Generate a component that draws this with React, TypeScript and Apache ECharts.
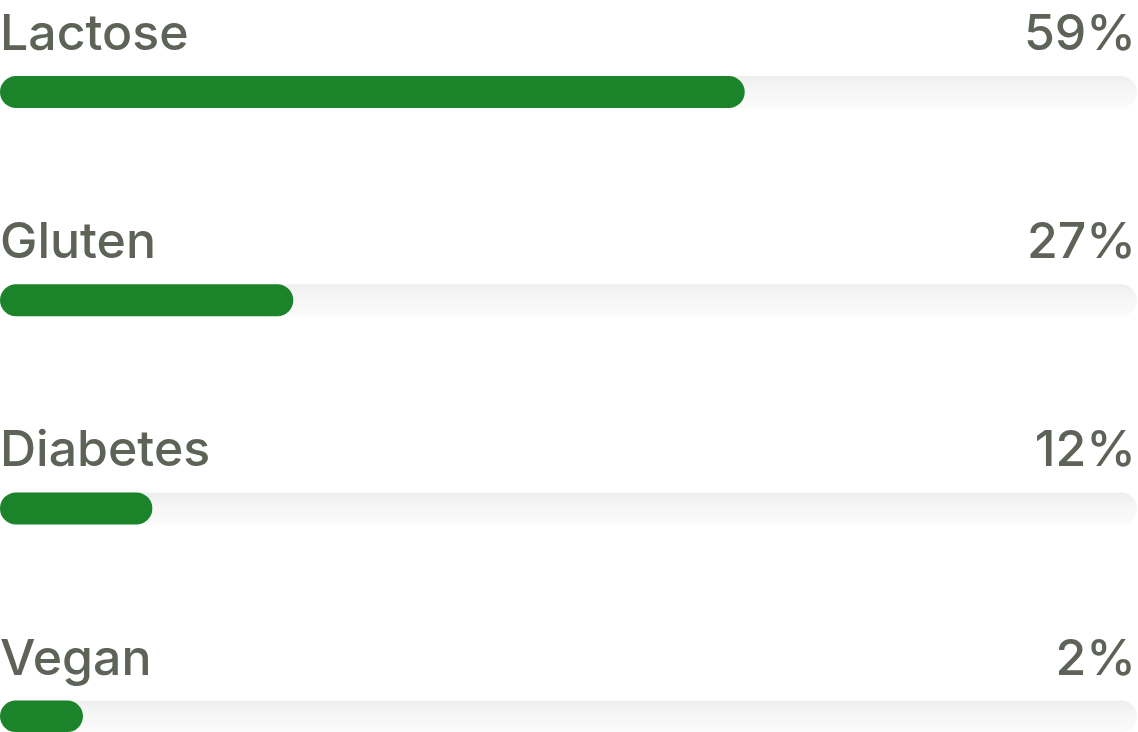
import React, { useEffect, useRef } from "react";
import * as echarts from "echarts";

const categories = ["Lactose", "Gluten", "Diabetes", "Vegan"];
const percentLabels = [59, 27, 12, 2];
// Fill lengths, in % of the track
const barLengths = [65.5, 25.8, 13.4, 7.3];
const trackMax = 100;

export default function App() {
  const ref = useRef<HTMLDivElement>(null);
  useEffect(() => {
    if (!ref.current) return;
    const chart = echarts.init(ref.current, null, { renderer: "svg" });
    const textColor = "#5e6358";
    const font = "Inter, 'Noto Sans', sans-serif";
    const rowTop = 76;
    const rowStep = 208.2;
    const barH = 32;

    const grids = categories.map((_, i) => ({
      left: 0,
      right: 1,
      top: rowTop + i * rowStep,
      height: barH,
      containLabel: false,
    }));
    const xAxes = categories.map((_, i) => ({
      type: "value",
      gridIndex: i,
      min: 0,
      max: trackMax,
      show: false,
    }));
    const yAxes = categories.map((c, i) => ({
      type: "category",
      gridIndex: i,
      data: [c],
      show: false,
    }));
    const series: any[] = [];
    categories.forEach((c, i) => {
      series.push({
        type: "bar",
        name: c + " track",
        xAxisIndex: i,
        yAxisIndex: i,
        data: [trackMax],
        barWidth: barH,
        barGap: "-100%",
        silent: true,
        itemStyle: {
          borderRadius: barH / 2,
          color: new echarts.graphic.LinearGradient(0, 0, 0, 1, [
            { offset: 0, color: "#eeeeee" },
            { offset: 0.35, color: "#f5f5f5" },
            { offset: 1, color: "#fbfbfb" },
          ]),
        },
        label: {
          show: true,
          position: ["100%", -44],
          align: "right",
          verticalAlign: "middle",
          offset: [-1, 0],
          formatter: () => percentLabels[i] + "%",
          color: textColor,
          fontSize: 50,
          fontFamily: font,
          fontWeight: 500,
        },
      });
      series.push({
        type: "bar",
        name: c,
        xAxisIndex: i,
        yAxisIndex: i,
        data: [barLengths[i]],
        barWidth: barH,
        barGap: "-100%",
        itemStyle: { borderRadius: barH / 2, color: "#1b842b" },
        label: {
          show: true,
          position: [0, -44],
          align: "left",
          verticalAlign: "middle",
          formatter: () => c,
          color: textColor,
          fontSize: 50,
          fontFamily: font,
          fontWeight: 500,
        },
      });
    });

    chart.setOption({
      animation: false,
      backgroundColor: "#ffffff",
      grid: grids,
      xAxis: xAxes,
      yAxis: yAxes,
      series,
    });
    return () => chart.dispose();
  }, []);
  return (
    <div
      ref={ref}
      style={{ position: "fixed", left: 0, top: 0, width: 1138, height: 732 }}
    />
  );
}
